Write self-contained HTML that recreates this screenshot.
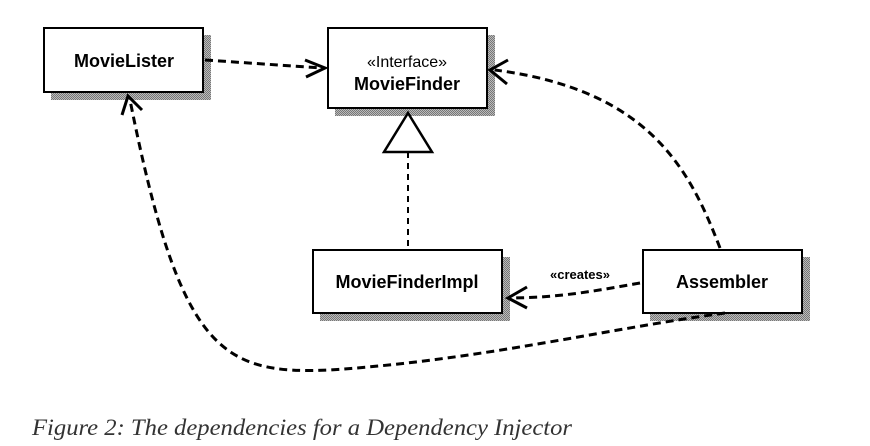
<!DOCTYPE html>
<html><head><style>body{margin:0;background:#fff}svg{display:block}</style></head><body>
<svg width="870" height="446" xmlns="http://www.w3.org/2000/svg" font-family="Liberation Sans, Arial, sans-serif">
<defs><pattern id="sh" width="2" height="2" patternUnits="userSpaceOnUse"><rect width="2" height="2" fill="#bbb"/><rect width="1" height="1" fill="#777"/><rect x="1" y="1" width="1" height="1" fill="#777"/></pattern></defs>
<g fill="url(#sh)">
<rect x="51" y="35" width="160" height="65"/>
<rect x="335" y="35" width="160" height="81"/>
<rect x="320" y="257" width="190" height="64"/>
<rect x="650" y="257" width="160" height="64"/>
</g>
<g fill="#fff" stroke="#000" stroke-width="2">
<rect x="44" y="28" width="159" height="64"/>
<rect x="328" y="28" width="159" height="80"/>
<rect x="313" y="250" width="189" height="63"/>
<rect x="643" y="250" width="159" height="63"/>
</g>
<g font-weight="bold" font-size="18" text-anchor="middle" fill="#000">
<text x="124" y="67">MovieLister</text>
<text x="407" y="90">MovieFinder</text>
<text x="407" y="288">MovieFinderImpl</text>
<text x="722" y="288">Assembler</text>
</g>
<text x="407" y="67" font-size="16" text-anchor="middle">«Interface»</text>
<text x="580" y="279" font-size="13" font-weight="bold" text-anchor="middle">«creates»</text>
<g fill="none" stroke="#000" stroke-width="3" stroke-dasharray="8,5">
<path d="M205 60 L322 68"/>
<path d="M720 248 C690 170 650 90 495 70"/>
<path d="M640 283 C600 290 560 298 508 298"/>
<path d="M725 313 C600 330 480 360 330 370 C220 375 180 350 130 100"/>
</g>
<path d="M408 152 V250" stroke="#000" stroke-width="2" stroke-dasharray="6,5" fill="none"/>
<polygon points="408,113 384,152 432,152" fill="#fff" stroke="#000" stroke-width="2.5"/>
<g fill="none" stroke="#000" stroke-width="3">
<path d="M305 60 L325 68 L306 77"/>
<path d="M508 60 L490 70 L507 84"/>
<path d="M527 287 L508 298 L527 308"/>
<path d="M122 115 L128 96 L142 110"/>
</g>
<text x="32" y="435" font-family="Liberation Serif, serif" font-style="italic" font-size="23" fill="#333" textLength="540" lengthAdjust="spacingAndGlyphs">Figure 2: The dependencies for a Dependency Injector</text>
</svg>
</body></html>
